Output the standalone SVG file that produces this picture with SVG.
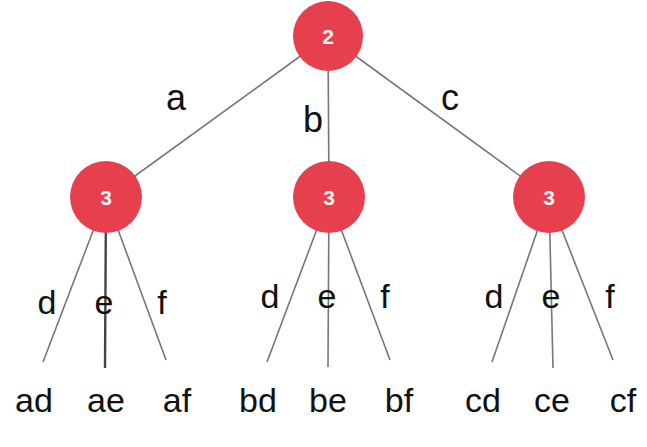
<svg xmlns="http://www.w3.org/2000/svg" width="647" height="447" viewBox="0 0 647 447">
<style>
.edge{stroke:#777;stroke-width:1.6;fill:none}
.dark{stroke:#444;stroke-width:2.4}
.node{fill:#E6404F}
.num{font-family:"Liberation Sans",Arial,sans-serif;font-weight:bold;font-size:21px;fill:#fff3f3;text-anchor:middle}
.lbl{font-family:"Liberation Sans",Arial,sans-serif;font-size:34px;fill:#111;text-anchor:middle}
.top{font-size:36px}
</style>
<rect width="647" height="447" fill="#fff"/>
<g id="connectors">
<line class="edge" x1="328" y1="36" x2="106" y2="197"/>
<line class="edge" x1="328" y1="36" x2="329" y2="197"/>
<line class="edge" x1="328" y1="36" x2="549" y2="197"/>
<line class="edge" x1="106" y1="197" x2="43" y2="362"/>
<line class="edge dark" x1="106" y1="197" x2="105" y2="368"/>
<line class="edge" x1="106" y1="197" x2="166" y2="360"/>
<line class="edge" x1="329" y1="197" x2="267" y2="362"/>
<line class="edge" x1="329" y1="197" x2="328" y2="367"/>
<line class="edge" x1="329" y1="197" x2="390" y2="360"/>
<line class="edge" x1="549" y1="197" x2="492" y2="362"/>
<line class="edge" x1="549" y1="197" x2="553" y2="368"/>
<line class="edge" x1="549" y1="197" x2="613" y2="360"/>
<text class="lbl top" x="176" y="110">a</text>
<text class="lbl top" x="313" y="132">b</text>
<text class="lbl top" x="450" y="110">c</text>
<text class="lbl" x="47" y="314">d</text>
<text class="lbl" x="104" y="314">e</text>
<text class="lbl" x="162" y="314">f</text>
<text class="lbl" x="270" y="308">d</text>
<text class="lbl" x="327" y="308">e</text>
<text class="lbl" x="385" y="308">f</text>
<text class="lbl" x="494" y="308">d</text>
<text class="lbl" x="551" y="308">e</text>
<text class="lbl" x="610" y="308">f</text>
</g>
<g id="root"><circle class="node" cx="328" cy="36" r="35"/><text class="num" x="328" y="43.5">2</text></g>
<g id="nodeA"><circle class="node" cx="106" cy="197" r="36"/><text class="num" x="106" y="204.5">3</text></g>
<g id="nodeB"><circle class="node" cx="329" cy="197" r="36"/><text class="num" x="329" y="204.5">3</text></g>
<g id="nodeC"><circle class="node" cx="549" cy="197" r="36"/><text class="num" x="549" y="204.5">3</text></g>
<g id="leaf-ad"><text class="lbl" x="34" y="412">ad</text></g>
<g id="leaf-ae"><text class="lbl" x="106" y="412">ae</text></g>
<g id="leaf-af"><text class="lbl" x="177" y="412">af</text></g>
<g id="leaf-bd"><text class="lbl" x="258" y="412">bd</text></g>
<g id="leaf-be"><text class="lbl" x="328" y="412">be</text></g>
<g id="leaf-bf"><text class="lbl" x="399" y="412">bf</text></g>
<g id="leaf-cd"><text class="lbl" x="483" y="412">cd</text></g>
<g id="leaf-ce"><text class="lbl" x="552" y="412">ce</text></g>
<g id="leaf-cf"><text class="lbl" x="623" y="412">cf</text></g>
</svg>
